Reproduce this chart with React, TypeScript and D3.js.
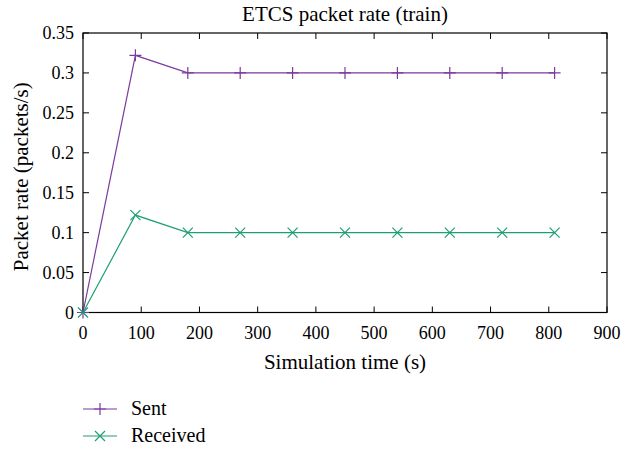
import React from "react";
import * as d3 from "d3";

const times = [0, 90, 180, 270, 360, 450, 540, 630, 720, 810];
const sent = [0, 0.322, 0.3, 0.3, 0.3, 0.3, 0.3, 0.3, 0.3, 0.3];
const received = [0, 0.122, 0.1, 0.1, 0.1, 0.1, 0.1, 0.1, 0.1, 0.1];
const xTicks = [0, 100, 200, 300, 400, 500, 600, 700, 800, 900];
const yTicks = [0, 0.05, 0.1, 0.15, 0.2, 0.25, 0.3, 0.35];
const yTickLabels = ["0", "0.05", "0.1", "0.15", "0.2", "0.25", "0.3", "0.35"];

const W = 623, H = 449;
const L = 83, R = 607, T = 33, B = 312.5;
const PURPLE = "#7b3a9e";
const GREEN = "#1e9e73";
const FONT = "'Liberation Serif', 'Times New Roman', serif";

export default function App() {
  const x = d3.scaleLinear().domain([0, 900]).range([L, R]);
  const y = d3.scaleLinear().domain([0, 0.35]).range([B, T]);
  const line = d3.line<[number, number]>().x((d) => x(d[0])).y((d) => y(d[1]));
  const sentPts = times.map((t, i) => [t, sent[i]] as [number, number]);
  const recPts = times.map((t, i) => [t, received[i]] as [number, number]);
  const tl = 6;
  const plus = (cx: number, cy: number, c: string, k: string) => (
    <path key={k} d={`M${cx - 6},${cy}H${cx + 6}M${cx},${cy - 6}V${cy + 6}`} stroke={c} strokeWidth={1.2} fill="none" />
  );
  const cross = (cx: number, cy: number, c: string, k: string) => (
    <path key={k} d={`M${cx - 5},${cy - 5}L${cx + 5},${cy + 5}M${cx - 5},${cy + 5}L${cx + 5},${cy - 5}`} stroke={c} strokeWidth={1.2} fill="none" />
  );
  return (
    <svg width={W} height={H} style={{ position: "absolute", left: 0, top: 0, background: "#fff" }} fontFamily={FONT}>
      <rect x={0} y={0} width={W} height={H} fill="#fff" />
      <text x={(L + R) / 2} y={21} textAnchor="middle" fontSize={21}>ETCS packet rate (train)</text>
      {xTicks.map((t) => (
        <g key={"x" + t}>
          <line x1={x(t)} x2={x(t)} y1={B} y2={B - tl} stroke="#000" strokeWidth={1} />
          <line x1={x(t)} x2={x(t)} y1={T} y2={T + tl} stroke="#000" strokeWidth={1} />
          <text x={x(t)} y={B + 26} textAnchor="middle" fontSize={18}>{t}</text>
        </g>
      ))}
      {yTicks.map((t, i) => (
        <g key={"y" + t}>
          <line x1={L} x2={L + tl} y1={y(t)} y2={y(t)} stroke="#000" strokeWidth={1} />
          <line x1={R} x2={R - tl} y1={y(t)} y2={y(t)} stroke="#000" strokeWidth={1} />
          <text x={74} y={y(t) + 6} textAnchor="end" fontSize={18}>{yTickLabels[i]}</text>
        </g>
      ))}
      <rect x={L} y={T} width={R - L} height={B - T} fill="none" stroke="#000" strokeWidth={1.2} />
      <path d={line(sentPts) || ""} stroke={PURPLE} strokeWidth={1.2} fill="none" />
      <path d={line(recPts) || ""} stroke={GREEN} strokeWidth={1.2} fill="none" />
      {sentPts.map((p, i) => plus(x(p[0]), y(p[1]), PURPLE, "s" + i))}
      {recPts.map((p, i) => cross(x(p[0]), y(p[1]), GREEN, "r" + i))}
      <text x={(L + R) / 2} y={369} textAnchor="middle" fontSize={21}>Simulation time (s)</text>
      <text transform={`translate(28,${(T + B) / 2 + 4}) rotate(-90)`} textAnchor="middle" fontSize={21}>Packet rate (packets/s)</text>
      <line x1={83} x2={117} y1={409} y2={409} stroke={PURPLE} strokeWidth={1.2} />
      {plus(100, 409, PURPLE, "lp")}
      <text x={131} y={415} fontSize={20}>Sent</text>
      <line x1={83} x2={117} y1={436} y2={436} stroke={GREEN} strokeWidth={1.2} />
      {cross(100, 436, GREEN, "lr")}
      <text x={131} y={442} fontSize={20}>Received</text>
    </svg>
  );
}
